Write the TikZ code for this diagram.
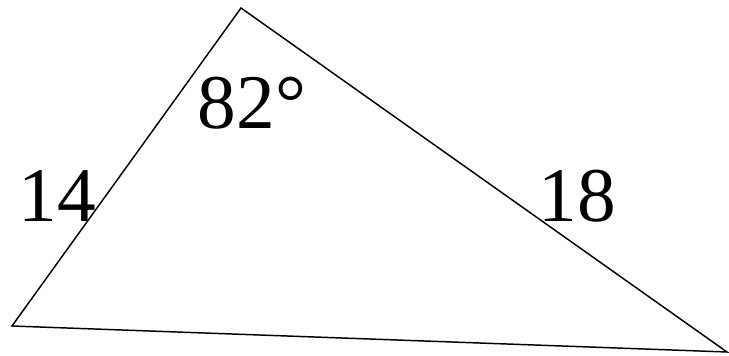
\documentclass[tikz,border=0pt]{standalone}
\usepackage{fontspec}
\setmainfont{Liberation Serif}
\usepackage{tikz}
\tikzset{
  side/.style={draw=black, line width=1.1pt, line join=miter},
  lbl/.style={inner sep=0pt, font=\fontsize{58}{60}\selectfont},
}
\begin{document}
\begin{tikzpicture}[x=0.75pt, y=-0.75pt]
  \useasboundingbox (0,0) rectangle (729,356);
  % corners
  \coordinate (top) at (241,8);
  \coordinate (lft) at (12,326);
  \coordinate (rgt) at (727,352);
  \draw[side] (top) -- (lft) -- (rgt) -- cycle;
  % labels
  \node[lbl] (a) at (57,196) {14};
  \node[lbl] (c) at (252,103) {82°};
  \node[lbl] (b) at (577,196) {18};
\end{tikzpicture}
\end{document}
